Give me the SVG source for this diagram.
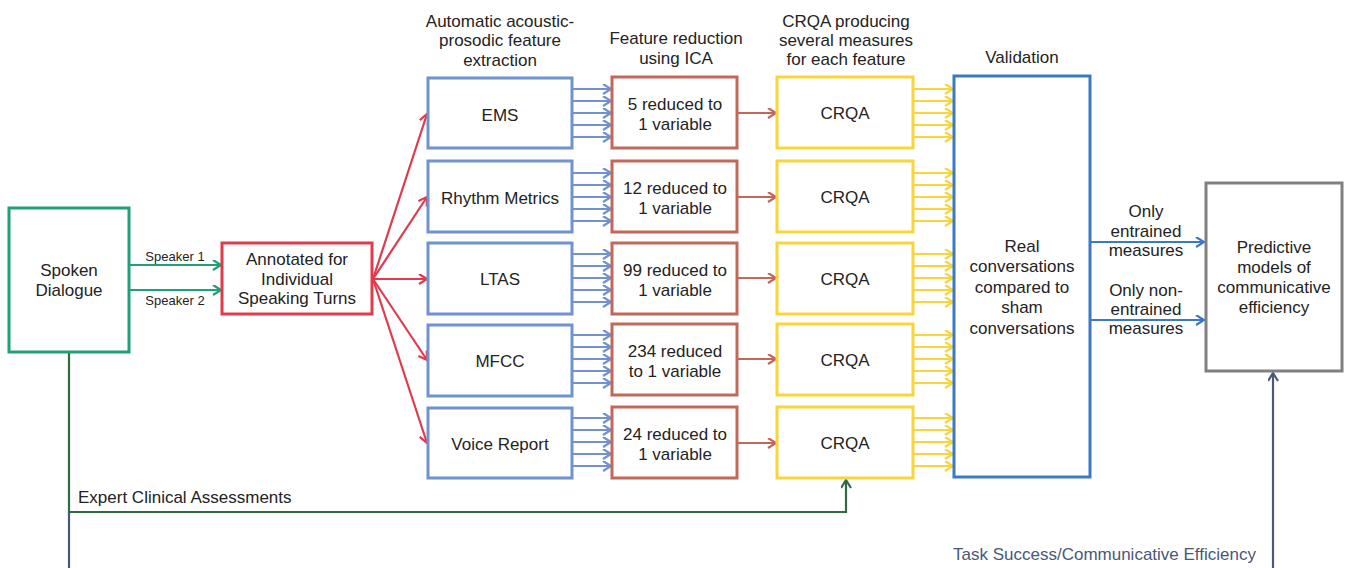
<svg xmlns="http://www.w3.org/2000/svg" width="1350" height="568" viewBox="0 0 1350 568">
<style>
text{font-family:"Liberation Sans",Arial,sans-serif;font-size:17px;fill:#232323;text-anchor:middle}
.box{fill:#fff;stroke-width:3}
.green{stroke:#1fa07a}
.red{stroke:#e03a4c}
.blue{stroke:#7092d0}
.brown{stroke:#c2675a}
.yellow{stroke:#f8d53a}
.val{stroke:#3b78c6}
.gray{stroke:#808080}
.c{fill:none;stroke-width:2.2}
.small{font-size:13px}
</style>
<defs>
<marker id="mGreen" markerUnits="userSpaceOnUse" markerWidth="12" markerHeight="12" refX="9" refY="5.5" orient="auto"><path d="M1,0.5 L9,5.5 L1,10.5" fill="none" stroke="#1fa07a" stroke-width="2.2"/></marker>
<marker id="mRed" markerUnits="userSpaceOnUse" markerWidth="12" markerHeight="12" refX="9" refY="5.5" orient="auto"><path d="M1,0.5 L9,5.5 L1,10.5" fill="none" stroke="#e03a4c" stroke-width="2.2"/></marker>
<marker id="mBlue" markerUnits="userSpaceOnUse" markerWidth="12" markerHeight="12" refX="9" refY="5.5" orient="auto"><path d="M1,0.5 L9,5.5 L1,10.5" fill="none" stroke="#7092d0" stroke-width="2.2"/></marker>
<marker id="mBrown" markerUnits="userSpaceOnUse" markerWidth="12" markerHeight="12" refX="9" refY="5.5" orient="auto"><path d="M1,0.5 L9,5.5 L1,10.5" fill="none" stroke="#c2675a" stroke-width="2.2"/></marker>
<marker id="mYellow" markerUnits="userSpaceOnUse" markerWidth="12" markerHeight="12" refX="9" refY="5.5" orient="auto"><path d="M1,0.5 L9,5.5 L1,10.5" fill="none" stroke="#f8d53a" stroke-width="2.2"/></marker>
<marker id="mVal" markerUnits="userSpaceOnUse" markerWidth="12" markerHeight="12" refX="9" refY="5.5" orient="auto"><path d="M1,0.5 L9,5.5 L1,10.5" fill="none" stroke="#3b78c6" stroke-width="2.2"/></marker>
<marker id="mDkGreen" markerUnits="userSpaceOnUse" markerWidth="12" markerHeight="12" refX="9" refY="5.5" orient="auto"><path d="M1,0.5 L9,5.5 L1,10.5" fill="none" stroke="#2f6a42" stroke-width="2.2"/></marker>
<marker id="mSlate" markerUnits="userSpaceOnUse" markerWidth="12" markerHeight="12" refX="9" refY="5.5" orient="auto"><path d="M1,0.5 L9,5.5 L1,10.5" fill="none" stroke="#4a5878" stroke-width="2.2"/></marker>
</defs>

<g id="headers">
<text x="500" y="27">Automatic acoustic-</text>
<text x="500" y="46">prosodic feature</text>
<text x="500" y="66">extraction</text>
<text x="676" y="44">Feature reduction</text>
<text x="676" y="64">using ICA</text>
<text x="846" y="27">CRQA producing</text>
<text x="846" y="46">several measures</text>
<text x="846" y="65">for each feature</text>
<text x="1022" y="63">Validation</text>
</g>

<g id="connectors">
<line class="c" x1="129" y1="265" x2="221" y2="265" stroke="#1fa07a" marker-end="url(#mGreen)"/>
<line class="c" x1="129" y1="290" x2="221" y2="290" stroke="#1fa07a" marker-end="url(#mGreen)"/>
<line class="c" x1="373" y1="279" x2="427" y2="114" stroke="#e03a4c" marker-end="url(#mRed)"/>
<line class="c" x1="373" y1="279" x2="427" y2="197" stroke="#e03a4c" marker-end="url(#mRed)"/>
<line class="c" x1="373" y1="279" x2="427" y2="279" stroke="#e03a4c" marker-end="url(#mRed)"/>
<line class="c" x1="373" y1="279" x2="427" y2="360" stroke="#e03a4c" marker-end="url(#mRed)"/>
<line class="c" x1="373" y1="279" x2="427" y2="443" stroke="#e03a4c" marker-end="url(#mRed)"/>
<g stroke="#7092d0" fill="none" stroke-width="2.2">
<line x1="573" y1="89" x2="611" y2="89" marker-end="url(#mBlue)"/>
<line x1="573" y1="101" x2="611" y2="101" marker-end="url(#mBlue)"/>
<line x1="573" y1="113" x2="611" y2="113" marker-end="url(#mBlue)"/>
<line x1="573" y1="125" x2="611" y2="125" marker-end="url(#mBlue)"/>
<line x1="573" y1="137" x2="611" y2="137" marker-end="url(#mBlue)"/>
<line x1="573" y1="173" x2="611" y2="173" marker-end="url(#mBlue)"/>
<line x1="573" y1="185" x2="611" y2="185" marker-end="url(#mBlue)"/>
<line x1="573" y1="197" x2="611" y2="197" marker-end="url(#mBlue)"/>
<line x1="573" y1="209" x2="611" y2="209" marker-end="url(#mBlue)"/>
<line x1="573" y1="221" x2="611" y2="221" marker-end="url(#mBlue)"/>
<line x1="573" y1="254" x2="611" y2="254" marker-end="url(#mBlue)"/>
<line x1="573" y1="266" x2="611" y2="266" marker-end="url(#mBlue)"/>
<line x1="573" y1="278" x2="611" y2="278" marker-end="url(#mBlue)"/>
<line x1="573" y1="290" x2="611" y2="290" marker-end="url(#mBlue)"/>
<line x1="573" y1="302" x2="611" y2="302" marker-end="url(#mBlue)"/>
<line x1="573" y1="335" x2="611" y2="335" marker-end="url(#mBlue)"/>
<line x1="573" y1="347" x2="611" y2="347" marker-end="url(#mBlue)"/>
<line x1="573" y1="359" x2="611" y2="359" marker-end="url(#mBlue)"/>
<line x1="573" y1="371" x2="611" y2="371" marker-end="url(#mBlue)"/>
<line x1="573" y1="383" x2="611" y2="383" marker-end="url(#mBlue)"/>
<line x1="573" y1="418" x2="611" y2="418" marker-end="url(#mBlue)"/>
<line x1="573" y1="430" x2="611" y2="430" marker-end="url(#mBlue)"/>
<line x1="573" y1="442" x2="611" y2="442" marker-end="url(#mBlue)"/>
<line x1="573" y1="454" x2="611" y2="454" marker-end="url(#mBlue)"/>
<line x1="573" y1="466" x2="611" y2="466" marker-end="url(#mBlue)"/>
</g>
<g stroke="#c2675a" fill="none" stroke-width="2.2">
<line x1="738" y1="113" x2="776" y2="113" marker-end="url(#mBrown)"/>
<line x1="738" y1="197" x2="776" y2="197" marker-end="url(#mBrown)"/>
<line x1="738" y1="278" x2="776" y2="278" marker-end="url(#mBrown)"/>
<line x1="738" y1="359" x2="776" y2="359" marker-end="url(#mBrown)"/>
<line x1="738" y1="443" x2="776" y2="443" marker-end="url(#mBrown)"/>
</g>
<g stroke="#f8d53a" fill="none" stroke-width="2.2">
<line x1="914" y1="89" x2="953" y2="89" marker-end="url(#mYellow)"/>
<line x1="914" y1="101" x2="953" y2="101" marker-end="url(#mYellow)"/>
<line x1="914" y1="113" x2="953" y2="113" marker-end="url(#mYellow)"/>
<line x1="914" y1="125" x2="953" y2="125" marker-end="url(#mYellow)"/>
<line x1="914" y1="137" x2="953" y2="137" marker-end="url(#mYellow)"/>
<line x1="914" y1="173" x2="953" y2="173" marker-end="url(#mYellow)"/>
<line x1="914" y1="185" x2="953" y2="185" marker-end="url(#mYellow)"/>
<line x1="914" y1="197" x2="953" y2="197" marker-end="url(#mYellow)"/>
<line x1="914" y1="209" x2="953" y2="209" marker-end="url(#mYellow)"/>
<line x1="914" y1="221" x2="953" y2="221" marker-end="url(#mYellow)"/>
<line x1="914" y1="254" x2="953" y2="254" marker-end="url(#mYellow)"/>
<line x1="914" y1="266" x2="953" y2="266" marker-end="url(#mYellow)"/>
<line x1="914" y1="278" x2="953" y2="278" marker-end="url(#mYellow)"/>
<line x1="914" y1="290" x2="953" y2="290" marker-end="url(#mYellow)"/>
<line x1="914" y1="302" x2="953" y2="302" marker-end="url(#mYellow)"/>
<line x1="914" y1="335" x2="953" y2="335" marker-end="url(#mYellow)"/>
<line x1="914" y1="347" x2="953" y2="347" marker-end="url(#mYellow)"/>
<line x1="914" y1="359" x2="953" y2="359" marker-end="url(#mYellow)"/>
<line x1="914" y1="371" x2="953" y2="371" marker-end="url(#mYellow)"/>
<line x1="914" y1="383" x2="953" y2="383" marker-end="url(#mYellow)"/>
<line x1="914" y1="418" x2="953" y2="418" marker-end="url(#mYellow)"/>
<line x1="914" y1="430" x2="953" y2="430" marker-end="url(#mYellow)"/>
<line x1="914" y1="442" x2="953" y2="442" marker-end="url(#mYellow)"/>
<line x1="914" y1="454" x2="953" y2="454" marker-end="url(#mYellow)"/>
<line x1="914" y1="466" x2="953" y2="466" marker-end="url(#mYellow)"/>
</g>
<line class="c" x1="1091" y1="242" x2="1204" y2="242" stroke="#3b78c6" marker-end="url(#mVal)"/>
<line class="c" x1="1091" y1="320" x2="1204" y2="320" stroke="#3b78c6" marker-end="url(#mVal)"/>
<polyline class="c" points="69,352 69,512 846,512 846,480" stroke="#2f6a42" marker-end="url(#mDkGreen)"/>
<line class="c" x1="69" y1="512" x2="69" y2="568" stroke="#4a5878"/>
<line class="c" x1="1273" y1="568" x2="1273" y2="373" stroke="#4a5878" marker-end="url(#mSlate)"/>
</g>

<g id="labels">
<text class="small" x="175" y="261">Speaker 1</text>
<text class="small" x="175" y="305">Speaker 2</text>
<text x="78" y="503" style="text-anchor:start">Expert Clinical Assessments</text>
<text x="953" y="560" style="text-anchor:start;fill:#4a5878">Task Success/Communicative Efficiency</text>
<text x="1146" y="217">Only</text>
<text x="1146" y="237">entrained</text>
<text x="1146" y="256">measures</text>
<text x="1146" y="296">Only non-</text>
<text x="1146" y="315">entrained</text>
<text x="1146" y="334">measures</text>
</g>

<g id="spoken-dialogue">
<rect class="box green" x="9" y="208" width="120" height="144"/>
<text x="69" y="276">Spoken</text>
<text x="69" y="296">Dialogue</text>
</g>
<g id="annotated">
<rect class="box red" x="222" y="243" width="150" height="71"/>
<text x="297" y="265">Annotated for</text>
<text x="297" y="285">Individual</text>
<text x="297" y="304">Speaking Turns</text>
</g>

<g id="ems"><rect class="box blue" x="428" y="78" width="144" height="70"/><text x="500" y="121">EMS</text></g>
<g id="rhythm"><rect class="box blue" x="428" y="161" width="144" height="71"/><text x="500" y="204">Rhythm Metrics</text></g>
<g id="ltas"><rect class="box blue" x="428" y="243" width="144" height="71"/><text x="500" y="285">LTAS</text></g>
<g id="mfcc"><rect class="box blue" x="428" y="325" width="144" height="71"/><text x="500" y="367">MFCC</text></g>
<g id="voice"><rect class="box blue" x="428" y="408" width="144" height="70"/><text x="500" y="450">Voice Report</text></g>

<g id="ica-ems"><rect class="box brown" x="612" y="77" width="125" height="71"/><text x="675" y="110">5 reduced to</text><text x="675" y="130">1 variable</text></g>
<g id="ica-rhythm"><rect class="box brown" x="612" y="161" width="125" height="71"/><text x="675" y="194">12 reduced to</text><text x="675" y="214">1 variable</text></g>
<g id="ica-ltas"><rect class="box brown" x="612" y="243" width="125" height="71"/><text x="675" y="276">99 reduced to</text><text x="675" y="296">1 variable</text></g>
<g id="ica-mfcc"><rect class="box brown" x="612" y="324" width="125" height="71"/><text x="675" y="357">234 reduced</text><text x="675" y="377">to 1 variable</text></g>
<g id="ica-voice"><rect class="box brown" x="612" y="407" width="125" height="71"/><text x="675" y="440">24 reduced to</text><text x="675" y="460">1 variable</text></g>

<g id="crqa-ems"><rect class="box yellow" x="777" y="77" width="136" height="71"/><text x="845" y="119">CRQA</text></g>
<g id="crqa-rhythm"><rect class="box yellow" x="777" y="161" width="136" height="71"/><text x="845" y="203">CRQA</text></g>
<g id="crqa-ltas"><rect class="box yellow" x="777" y="243" width="136" height="71"/><text x="845" y="285">CRQA</text></g>
<g id="crqa-mfcc"><rect class="box yellow" x="777" y="324" width="136" height="71"/><text x="845" y="366">CRQA</text></g>
<g id="crqa-voice"><rect class="box yellow" x="777" y="407" width="136" height="71"/><text x="845" y="449">CRQA</text></g>

<g id="validation">
<rect class="box val" x="954" y="76" width="136" height="401"/>
<text x="1022" y="252">Real</text>
<text x="1022" y="272">conversations</text>
<text x="1022" y="293">compared to</text>
<text x="1022" y="313">sham</text>
<text x="1022" y="334">conversations</text>
</g>

<g id="predictive">
<rect class="box gray" x="1206" y="183" width="136" height="188"/>
<text x="1274" y="253">Predictive</text>
<text x="1274" y="273">models of</text>
<text x="1274" y="293">communicative</text>
<text x="1274" y="313">efficiency</text>
</g>
</svg>
